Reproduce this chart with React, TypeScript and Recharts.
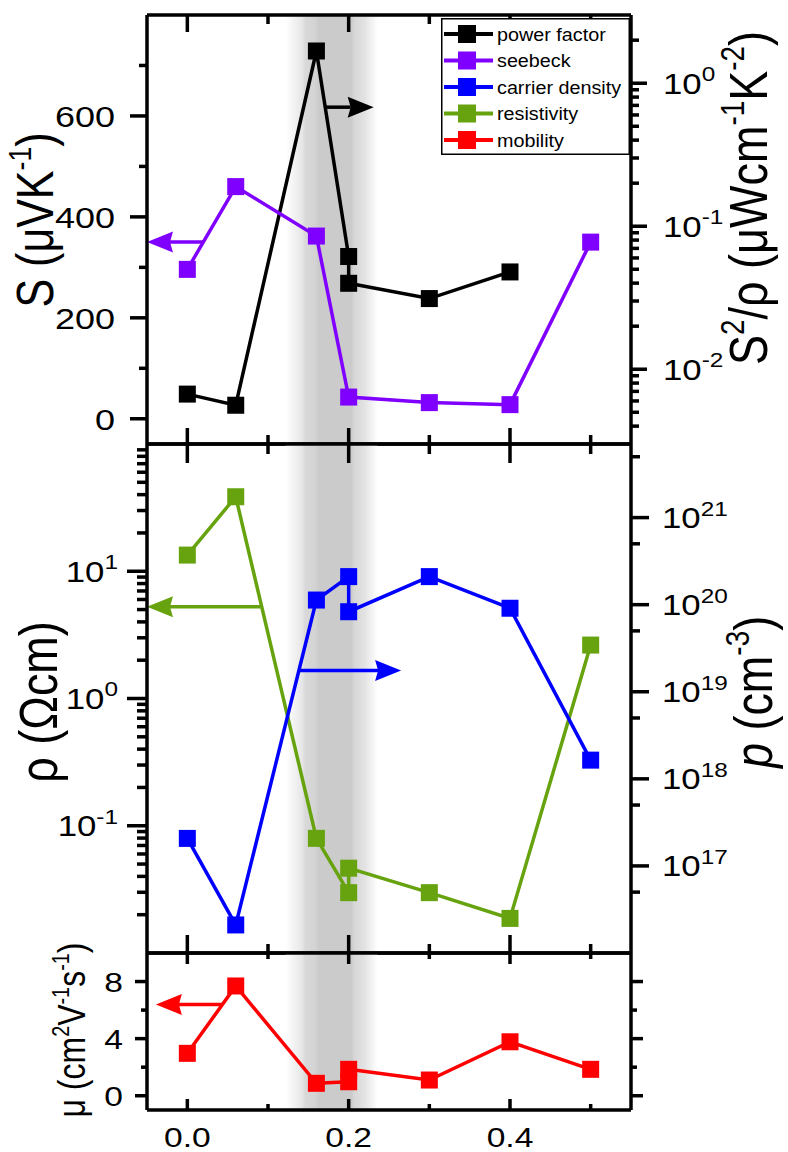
import React from 'react';
import { ComposedChart, Line, XAxis, YAxis, ReferenceArea, ReferenceLine, Legend, Label } from 'recharts';

const FONT = '"Liberation Sans", Arial, Helvetica, sans-serif';
const SX = 1.2;
const W = 788;
const H = 1152;

// ---------- data ----------
const xTicks = [0, 0.1, 0.2, 0.3, 0.4, 0.5];
const xMajor = [0, 0.2, 0.4];
const xLabels = ['0.0', '0.2', '0.4'];

const pfX = [0, 0.06, 0.16, 0.2, 0.2, 0.3, 0.4];
const pfY = [0.0067, 0.0056, 1.68, 0.0614, 0.0399, 0.0312, 0.0479];

const seebeckX = [0, 0.06, 0.16, 0.2, 0.3, 0.4, 0.5];
const seebeckY = [296, 460, 362, 43, 32, 28, 350];

const carrierX = [0, 0.06, 0.16, 0.2, 0.2, 0.3, 0.4, 0.5];
const carrierY = [2.07e17, 2.1e16, 1.13e20, 2.1e20, 8.3e19, 2.1e20, 9.1e19, 1.64e18];

const resistX = [0, 0.06, 0.16, 0.2, 0.2, 0.3, 0.4, 0.5];
const resistY = [13.4, 38.5, 0.0796, 0.0298, 0.0464, 0.0298, 0.0187, 2.63];

const mobX = [0, 0.06, 0.16, 0.2, 0.2, 0.3, 0.4, 0.5];
const mobY = [2.97, 7.69, 0.87, 0.98, 1.85, 1.1, 3.78, 1.85];

const legendNames = ['power factor', 'seebeck', 'carrier density', 'resistivity', 'mobility'];
const C_PF = '#000000';
const C_SB = '#8000ff';
const C_CD = '#0000ff';
const C_RS = '#66a30f';
const C_MB = '#ff0000';
const legendColors = [C_PF, C_SB, C_CD, C_RS, C_MB];

// axis ticks
const sTicks = [0, 100, 200, 300, 400, 500, 600, 700];
const sMajor = [0, 200, 400, 600];
const pfTicks = [0.004, 0.005, 0.006, 0.007, 0.008, 0.009, 0.01, 0.02, 0.03, 0.04, 0.05, 0.06, 0.07, 0.08, 0.09, 0.1, 0.2, 0.3, 0.4, 0.5, 0.6, 0.7, 0.8, 0.9, 1, 2];
const pfMajor = [0.01, 0.1, 1];
const rhoTicks = [0.02, 0.03, 0.04, 0.05, 0.06, 0.07, 0.08, 0.09, 0.1, 0.2, 0.3, 0.4, 0.5, 0.6, 0.7, 0.8, 0.9, 1, 2, 3, 4, 5, 6, 7, 8, 9, 10, 20, 30, 40, 50, 60, 70, 80, 90];
const rhoMajor = [0.1, 1, 10];
const pTicks = [5e16, 1e17, 5e17, 1e18, 5e18, 1e19, 5e19, 1e20, 5e20, 1e21, 5e21];
const pMajor = [1e17, 1e18, 1e19, 1e20, 1e21];
const muTicks = [0, 2, 4, 6, 8];
const muMajor = [0, 4, 8];

// arrows [xFrom, xTo, y]
const arrowPF = [0.171, 0.231, 0.68];
const arrowSB = [0.02, -0.05, 350];
const arrowRS = [0.093, -0.05, 5.25];
const arrowCD = [0.138, 0.265, 1.75e19];
const arrowMB = [0.043, -0.039, 6.4];

const bandRange = [0.122, 0.236];
const bandStops: [number, string][] = [
  [0, '#ffffff'], [0.18, '#e6e6e6'], [0.21, '#d9d9d9'], [0.33, '#d2d2d2'], [0.35, '#cbcbcb'],
  [0.72, '#cbcbcb'], [0.74, '#d6d6d6'], [0.86, '#e3e3e3'], [1, '#ffffff'],
];

const toPts = (xs: number[], ys: number[]) => xs.map((x, i) => ({ x, y: ys[i] }));

// ---------- helpers ----------
const isIn = (v: number, arr: number[]) => arr.some((m) => Math.abs(m - v) <= Math.abs(m) * 1e-6 + 1e-12);

type Seg = [string, 'n' | 's' | 'i'];
const rich = (fs: number, segs: Seg[]) => {
  let cur = 0;
  return segs.map(([t, kind], i) => {
    const lvl = kind === 's' ? -0.42 * fs : 0;
    const dy = lvl - cur;
    cur = lvl;
    return (
      <tspan
        key={i}
        dy={dy}
        fontSize={kind === 's' ? 0.62 * fs : fs}
        fontStyle={kind === 'i' ? 'italic' : 'normal'}
      >
        {t}
      </tspan>
    );
  });
};

const powLabel = (fs: number) => (v: number) => {
  const e = Math.round(Math.log10(v));
  return [
    <tspan key="b">10</tspan>,
    <tspan key="e" dy={-0.43 * fs} fontSize={0.7 * fs}>{String(e)}</tspan>,
  ];
};

type TickCfg = {
  side: 'left' | 'right' | 'top' | 'bottom';
  majors: number[];
  majLen: number;
  minLen: number;
  gap?: number;
  fs?: number;
  label?: (v: number) => React.ReactNode;
};

const TW = 3.5;

const makeTick = (cfg: TickCfg) => (props: any) => {
  const { x, y, payload } = props;
  const v = Number(payload.value);
  const major = isIn(v, cfg.majors);
  const len = major ? cfg.majLen : cfg.minLen;
  let x2 = x;
  let y2 = y;
  if (cfg.side === 'left') x2 = x - len;
  else if (cfg.side === 'right') x2 = x + len;
  else if (cfg.side === 'top') y2 = y + len;
  else y2 = y - len;
  let txt: React.ReactNode = null;
  if (major && cfg.label) {
    const fs = cfg.fs || 28;
    const gap = cfg.gap || 0;
    const content = cfg.label(v);
    let tr = '';
    let anchor: 'start' | 'middle' | 'end' = 'middle';
    if (cfg.side === 'left') {
      tr = `translate(${x - gap},${y + 0.36 * fs}) scale(${SX},1)`;
      anchor = 'end';
    } else if (cfg.side === 'right') {
      tr = `translate(${x + gap},${y + 0.36 * fs}) scale(${SX},1)`;
      anchor = 'start';
    } else {
      tr = `translate(${x},${y + gap + 0.36 * fs}) scale(${SX},1)`;
    }
    txt = (
      <text transform={tr} textAnchor={anchor} fontSize={fs} fontFamily={FONT} fill="#000">
        {content}
      </text>
    );
  }
  return (
    <g>
      <line x1={x} y1={y} x2={x2} y2={y2} stroke="#000" strokeWidth={TW} />
      {txt}
    </g>
  );
};

const squareDot = (color: string, size = 17) => (p: any) => (
  <rect key={`d-${p.index}`} x={p.cx - size / 2} y={p.cy - size / 2} width={size} height={size} fill={color} />
);

const arrowShape = (color: string) => (p: any) => {
  const { x1, y1, x2, y2 } = p;
  const dir = Math.sign(x2 - x1) || 1;
  const L = 26;
  const Hh = 10.5;
  const bx = x2 - dir * L;
  return (
    <g>
      <line x1={x1} y1={y1} x2={bx + dir * 3} y2={y2} stroke={color} strokeWidth={3.5} />
      <polygon points={`${x2},${y2} ${bx},${y2 - Hh} ${bx + dir * 3},${y2} ${bx},${y2 + Hh}`} fill={color} />
    </g>
  );
};

const RotTitle = (bx: number, cy: number, fs: number, segs: Seg[]) => () => (
  <text transform={`translate(${bx},${cy}) scale(${SX},1) rotate(-90)`} textAnchor="middle" fontSize={fs} fontFamily={FONT} fill="#000">
    {rich(fs, segs)}
  </text>
);

const BandDefs = ({ id }: { id: string }) => (
  <defs>
    <linearGradient id={id} x1="0" y1="0" x2="1" y2="0">
      {bandStops.map(([o, c], i) => (
        <stop key={i} offset={o} stopColor={c} />
      ))}
    </linearGradient>
  </defs>
);

const axisLine = { stroke: '#000', strokeWidth: 3.5 };

const xAxes = (bottomLen: [number, number], topLen: [number, number], withLabels: boolean) => [
  <XAxis
    key="xb"
    xAxisId="b"
    type="number"
    dataKey="x"
    domain={[-0.05, 0.55]}
    allowDataOverflow
    ticks={xTicks}
    interval={0}
    height={1}
    tickLine={false}
    tickSize={0}
    tickMargin={0}
    axisLine={axisLine}
    tick={makeTick({
      side: 'bottom',
      majors: xMajor,
      majLen: bottomLen[0],
      minLen: bottomLen[1],
      gap: 27,
      fs: 28,
      label: withLabels ? (v: number) => xLabels[xMajor.findIndex((m) => Math.abs(m - v) < 1e-9)] : undefined,
    })}
  />,
  <XAxis
    key="xt"
    xAxisId="t"
    orientation="top"
    type="number"
    dataKey="x"
    domain={[-0.05, 0.55]}
    allowDataOverflow
    ticks={xTicks}
    interval={0}
    height={1}
    tickLine={false}
    tickSize={0}
    tickMargin={0}
    axisLine={axisLine}
    tick={makeTick({ side: 'top', majors: xMajor, majLen: topLen[0], minLen: topLen[1] })}
  />,
];

const renderLegend = () => (
  <svg width={189} height={137} style={{ display: 'block' }}>
    <rect x={0.75} y={0.75} width={187.5} height={135.5} fill="#fff" stroke="#000" strokeWidth={1.5} />
    {legendNames.map((n, i) => {
      const cy = 16 + i * 26.5;
      return (
        <g key={n}>
          <line x1={3} x2={52} y1={cy} y2={cy} stroke={legendColors[i]} strokeWidth={4} />
          <rect x={17} y={cy - 9} width={18} height={18} fill={legendColors[i]} />
          <text transform={`translate(56,${cy + 6.5}) scale(1.13,1)`} fontSize={17.5} fontFamily={FONT} fill="#000">
            {n}
          </text>
        </g>
      );
    })}
  </svg>
);

const layer: React.CSSProperties = { position: 'absolute', left: 0, top: 0 };
const LW = 3.5;

export default function App() {
  const fsT = 43;
  return (
    <div style={{ position: 'absolute', left: 0, top: 0, width: W, height: H, background: '#fff' }}>
      {/* ---------- top panel ---------- */}
      <div style={layer}>
        <ComposedChart width={W} height={H} margin={{ top: 14, bottom: 707, left: 0, right: 0 }}>
          <BandDefs id="band1" />
          {xAxes([16, 9], [17, 9], false)}
          <YAxis
            yAxisId="L"
            type="number"
            domain={[-50, 800]}
            allowDataOverflow
            width={147}
            ticks={sTicks}
            interval={0}
            tickLine={false}
            tickSize={0}
            tickMargin={0}
            axisLine={axisLine}
            tick={makeTick({ side: 'left', majors: sMajor, majLen: 17, minLen: 8, gap: 32, fs: 30, label: (v) => String(v) })}
          >
            <Label content={RotTitle(53, 220, fsT, [['S (μVK', 'n'], ['-1', 's'], [')', 'n']])} />
          </YAxis>
          <YAxis
            yAxisId="R"
            orientation="right"
            type="number"
            scale="log"
            domain={[0.003, 3]}
            allowDataOverflow
            width={157}
            ticks={pfTicks}
            interval={0}
            tickLine={false}
            tickSize={0}
            tickMargin={0}
            axisLine={axisLine}
            tick={makeTick({ side: 'right', majors: pfMajor, majLen: 16, minLen: 8, gap: 32, fs: 29, label: powLabel(29) })}
          >
            <Label
              content={RotTitle(767, 198, 45, [
                ['S', 'n'], ['2', 's'], ['/ρ (μWcm', 'n'], ['-1', 's'], ['K', 'n'], ['-2', 's'], [')', 'n'],
              ])}
            />
          </YAxis>
          <ReferenceArea xAxisId="b" yAxisId="L" x1={bandRange[0]} x2={bandRange[1]} fill="url(#band1)" fillOpacity={1} stroke="none" ifOverflow="visible" />
          <Line xAxisId="b" yAxisId="R" data={toPts(pfX, pfY)} dataKey="y" stroke={C_PF} strokeWidth={LW} dot={squareDot(C_PF)} activeDot={false} isAnimationActive={false} />
          <Line xAxisId="b" yAxisId="L" data={toPts(seebeckX, seebeckY)} dataKey="y" stroke={C_SB} strokeWidth={LW} dot={squareDot(C_SB)} activeDot={false} isAnimationActive={false} />
          <ReferenceLine xAxisId="b" yAxisId="R" segment={[{ x: arrowPF[0], y: arrowPF[2] }, { x: arrowPF[1], y: arrowPF[2] }]} shape={arrowShape(C_PF)} ifOverflow="visible" />
          <ReferenceLine xAxisId="b" yAxisId="L" segment={[{ x: arrowSB[0], y: arrowSB[2] }, { x: arrowSB[1], y: arrowSB[2] }]} shape={arrowShape(C_SB)} ifOverflow="visible" />
          <Legend content={renderLegend} layout="horizontal" verticalAlign="middle" align="center" wrapperStyle={{ position: 'absolute', left: 441, top: 18, width: 189, height: 137 }} />
        </ComposedChart>
      </div>

      {/* ---------- middle panel ---------- */}
      <div style={layer}>
        <ComposedChart width={W} height={H} margin={{ top: 443, bottom: 198, left: 0, right: 0 }}>
          <BandDefs id="band2" />
          {xAxes([18, 9], [19, 10], false)}
          <YAxis
            yAxisId="L"
            type="number"
            scale="log"
            domain={[0.01, 100]}
            allowDataOverflow
            width={147}
            ticks={rhoTicks}
            interval={0}
            tickLine={false}
            tickSize={0}
            tickMargin={0}
            axisLine={axisLine}
            tick={makeTick({ side: 'left', majors: rhoMajor, majLen: 20, minLen: 10, gap: 29, fs: 29, label: powLabel(29) })}
          >
            <Label content={RotTitle(57, 702, 45, [['ρ (Ωcm)', 'n']])} />
          </YAxis>
          <YAxis
            yAxisId="R"
            orientation="right"
            type="number"
            scale="log"
            domain={[1e16, 7e21]}
            allowDataOverflow
            width={157}
            ticks={pTicks}
            interval={0}
            tickLine={false}
            tickSize={0}
            tickMargin={0}
            axisLine={axisLine}
            tick={makeTick({ side: 'right', majors: pMajor, majLen: 18, minLen: 9, gap: 31, fs: 29, label: powLabel(29) })}
          >
            <Label content={RotTitle(772, 692, 45, [['p', 'i'], [' (cm', 'n'], ['-3', 's'], [')', 'n']])} />
          </YAxis>
          <ReferenceArea xAxisId="b" yAxisId="L" x1={bandRange[0]} x2={bandRange[1]} fill="url(#band2)" fillOpacity={1} stroke="none" ifOverflow="visible" />
          <Line xAxisId="b" yAxisId="L" data={toPts(resistX, resistY)} dataKey="y" stroke={C_RS} strokeWidth={LW} dot={squareDot(C_RS)} activeDot={false} isAnimationActive={false} />
          <Line xAxisId="b" yAxisId="R" data={toPts(carrierX, carrierY)} dataKey="y" stroke={C_CD} strokeWidth={LW} dot={squareDot(C_CD)} activeDot={false} isAnimationActive={false} />
          <ReferenceLine xAxisId="b" yAxisId="L" segment={[{ x: arrowRS[0], y: arrowRS[2] }, { x: arrowRS[1], y: arrowRS[2] }]} shape={arrowShape(C_RS)} ifOverflow="visible" />
          <ReferenceLine xAxisId="b" yAxisId="R" segment={[{ x: arrowCD[0], y: arrowCD[2] }, { x: arrowCD[1], y: arrowCD[2] }]} shape={arrowShape(C_CD)} ifOverflow="visible" />
        </ComposedChart>
      </div>

      {/* ---------- bottom panel ---------- */}
      <div style={layer}>
        <ComposedChart width={W} height={H} margin={{ top: 952, bottom: 41, left: 0, right: 0 }}>
          <BandDefs id="band3" />
          {xAxes([11, 6], [11, 6], true)}
          <YAxis
            yAxisId="L"
            type="number"
            domain={[-1, 10]}
            allowDataOverflow
            width={147}
            ticks={muTicks}
            interval={0}
            tickLine={false}
            tickSize={0}
            tickMargin={0}
            axisLine={axisLine}
            tick={makeTick({ side: 'left', majors: muMajor, majLen: 12, minLen: 6, gap: 24, fs: 28, label: (v) => String(v) })}
          >
            <Label
              content={RotTitle(85, 1030, 32, [
                ['μ (cm', 'n'], ['2', 's'], ['V', 'n'], ['-1', 's'], ['s', 'n'], ['-1', 's'], [')', 'n'],
              ])}
            />
          </YAxis>
          <YAxis
            yAxisId="R"
            orientation="right"
            type="number"
            domain={[-1, 10]}
            allowDataOverflow
            width={157}
            ticks={muTicks}
            interval={0}
            tickLine={false}
            tickSize={0}
            tickMargin={0}
            axisLine={axisLine}
            tick={makeTick({ side: 'right', majors: muMajor, majLen: 12, minLen: 6 })}
          />
          <ReferenceArea xAxisId="b" yAxisId="L" x1={bandRange[0]} x2={bandRange[1]} fill="url(#band3)" fillOpacity={1} stroke="none" ifOverflow="visible" />
          <Line xAxisId="b" yAxisId="L" data={toPts(mobX, mobY)} dataKey="y" stroke={C_MB} strokeWidth={LW} dot={squareDot(C_MB)} activeDot={false} isAnimationActive={false} />
          <ReferenceLine xAxisId="b" yAxisId="L" segment={[{ x: arrowMB[0], y: arrowMB[2] }, { x: arrowMB[1], y: arrowMB[2] }]} shape={arrowShape(C_MB)} ifOverflow="visible" />
        </ComposedChart>
      </div>
    </div>
  );
}
